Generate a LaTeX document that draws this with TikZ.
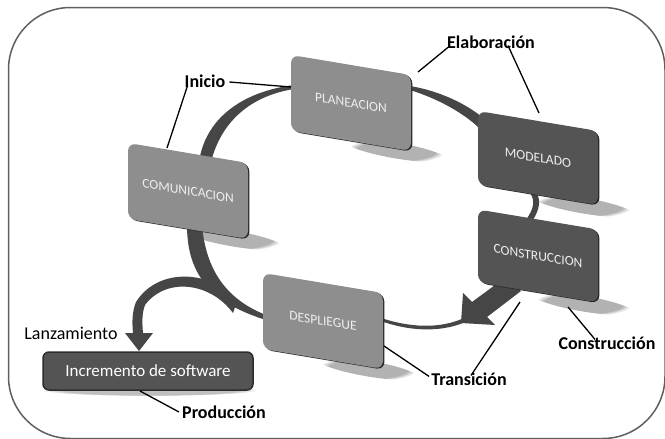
\documentclass[tikz,border=0pt]{standalone}
\usepackage{fontspec}
\setmainfont{Carlito}
\usetikzlibrary{fadings}
\definecolor{lightbox}{RGB}{142,142,142}
\definecolor{darkbox}{RGB}{84,84,84}
\definecolor{bandcol}{RGB}{70,70,70}
\definecolor{framecol}{RGB}{95,95,95}
\definecolor{boxtext}{RGB}{238,238,238}
\begin{document}
\begin{tikzpicture}[x=1pt,y=-1pt,
  band/.style={fill=bandcol},
  lead/.style={draw=black, line width=1.3pt},
  lbl/.style={font=\fontsize{18}{20}\selectfont\bfseries, inner sep=0pt},
  plainlbl/.style={font=\fontsize{18}{20}\selectfont, inner sep=0pt},
  slbox/.style={rectangle, rounded corners=8pt, minimum width=120pt, minimum height=76pt,
    inner sep=0pt, transform shape, text=boxtext, font=\fontsize{13.5}{15}\selectfont},
  slshadow/.style={fill=black, opacity=0.3, path fading=circle with fuzzy edge 20 percent},
  edgecopy/.style={slbox, fill=black!85}
]
\useasboundingbox (0,0) rectangle (665,439);
\fill[white] (0,0) rectangle (665,439);
% frame
\draw[framecol, line width=1.5pt, rounded corners=62pt] (8.5,7.5) rectangle (665,438.5);

% shadows
\foreach \cx/\cy in {351/103, 538/158, 538/256, 188/191, 323/321}{
  \begin{scope}[shift={(\cx,\cy)}, yslant=-0.167]
    \fill[slshadow] (45,40) ellipse [x radius=50pt, y radius=8pt];
  \end{scope}
}
\fill[black, opacity=0.25, path fading=circle with fuzzy edge 20 percent] (150,390) ellipse [x radius=108pt, y radius=6pt];

% cycle bands
\fill[band] (199,162) .. controls (205,120) and (240,92) .. (294,85) -- (294,89) .. controls (250,96) and (221,122) .. (211,162) -- cycle;
\fill[band] (410,86) .. controls (440,91) and (466,104) .. (482,117) -- (482,131) .. controls (470,118) and (445,101) .. (410,90) -- cycle;
\fill[band] (529,192) .. controls (536,200) and (534,208) .. (526,220) -- (533,220) .. controls (540,208) and (541,200) .. (536,192) -- cycle;
\fill[band] (506,277) -- (472,302) -- (463,293) -- (461,323) -- (495,325) -- (487,317) -- (521,291) -- cycle;
\fill[band] (378,317) .. controls (410,328) and (440,329) .. (464,318) -- (463,323) .. controls (440,332) and (410,332) .. (378,320) -- cycle;
\fill[band] (187,225) .. controls (187,272) and (208,302) .. (266,320) -- (266,315) .. controls (228,300) and (206,272) .. (202,225) -- cycle;
% Lanzamiento arrow
\fill[band] (240,304) .. controls (218,272) and (160,264) .. (136,302) .. controls (132,312) and (132,322) .. (133,333) -- (125,333) -- (139,351) -- (153,333) -- (143,333) .. controls (142,322) and (142,313) .. (145,305) .. controls (166,277) and (210,282) .. (233,313) -- (235,307) -- cycle;

% boxes
\begin{scope}[shift={(351,103)}, yslant=-0.167]
  \node[edgecopy] at (1.4,0.6) {};
  \node[slbox, fill=lightbox] (plan) at (0,0) {PLANEACION};
\end{scope}
\begin{scope}[shift={(538,158)}, yslant=-0.167]
  \node[edgecopy, minimum height=74pt] at (1.4,0.6) {};
  \node[slbox, fill=darkbox, minimum height=74pt] (mod) at (0,0) {MODELADO};
\end{scope}
\begin{scope}[shift={(538,256)}, yslant=-0.167]
  \node[edgecopy, minimum height=73pt] at (1.4,0.6) {};
  \node[slbox, fill=darkbox, minimum height=73pt] (cons) at (0,0) {CONSTRUCCION};
\end{scope}
\begin{scope}[shift={(188,191)}, yslant=-0.167]
  \node[edgecopy] at (1.4,0.6) {};
  \node[slbox, fill=lightbox] (com) at (0,0) {COMUNICACION};
\end{scope}
\begin{scope}[shift={(323,321)}, yslant=-0.167]
  \node[edgecopy] at (1.4,0.6) {};
  \node[slbox, fill=lightbox] (desp) at (0,0) {DESPLIEGUE};
\end{scope}

\node[rectangle, rounded corners=6pt, fill=darkbox, draw={rgb,255:red,45;green,45;blue,45}, line width=1.5pt,
  minimum width=210pt, minimum height=38pt, inner sep=0pt, text=white, font=\fontsize{17}{19}\selectfont]
  (inc) at (148,371) {Incremento de software};

% labels
\node[lbl] (elab) at (491,42) {Elaboración};
\node[lbl] (ini) at (205,81) {Inicio};
\node[lbl] (constr) at (607,343) {Construcción};
\node[lbl] (trans) at (469,379) {Transición};
\node[lbl] (prod) at (224,412) {Producción};
\node[plainlbl] (lanz) at (71,333) {Lanzamiento};

% leader line ends
\coordinate (pA) at (291,87);
\coordinate (cA) at (167,148);
\coordinate (pB) at (418,72);
\coordinate (mA) at (539,113);
\coordinate (kA) at (568,307);
\coordinate (kB) at (520,302);
\coordinate (dA) at (384,346);
\coordinate (iA) at (140,391);

\draw[lead] ([xshift=4pt,yshift=-1pt]ini.east) -- (pA);
\draw[lead] ([shift={(3pt,2pt)}]ini.south west) -- (cA);
\draw[lead] ([shift={(2pt,2pt)}]elab.south west) -- (pB);
\draw[lead] ([shift={(17pt,3pt)}]elab.south) -- (mA);
\draw[lead] ([shift={(-12pt,-3pt)}]constr.north) -- (kA);
\draw[lead] ([shift={(2pt,-3pt)}]trans.north) -- (kB);
\draw[lead] ([shift={(-2pt,-4pt)}]trans.north west) -- (dA);
\draw[lead] ([shift={(-3pt,0pt)}]prod.west) -- (iA);
\end{tikzpicture}
\end{document}
